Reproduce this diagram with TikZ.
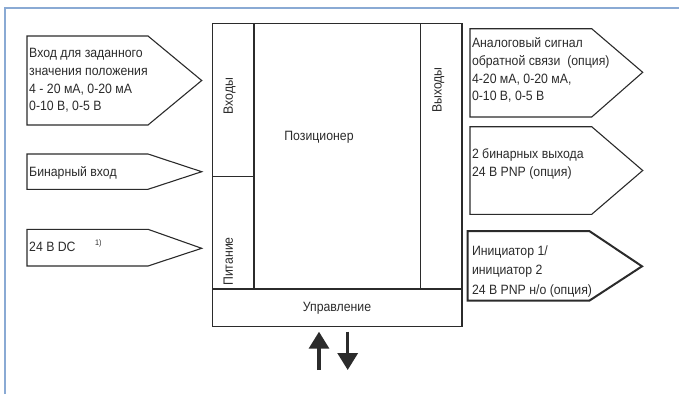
\documentclass[tikz,border=0pt]{standalone}
\usepackage{fontspec}
\setmainfont{Liberation Sans}[FakeStretch=0.91]
\usetikzlibrary{arrows.meta}
\definecolor{ln}{HTML}{2B2B2B}
\definecolor{fr}{HTML}{8AAAD4}
\begin{document}
\begin{tikzpicture}[x=1pt,y=-1pt,
  box/.style={draw=ln, line width=1.1pt, line join=miter},
  thickbox/.style={draw=ln, line width=2pt, line join=miter},
  lbl/.style={font=\fontsize{13.5}{17.7}\selectfont, text=ln, inner sep=0pt, align=left, anchor=base west},
  rlbl/.style={font=\fontsize{13.5}{15.6}\selectfont, text=ln, inner sep=0pt, rotate=90, anchor=base},
  clbl/.style={font=\fontsize{13.5}{15.6}\selectfont, text=ln, inner sep=0pt, anchor=base},
  bigarrow/.style={draw=ln, line width=3.3pt, -{Triangle[width=20pt,length=17pt]}}]
\useasboundingbox (0,0) rectangle (679,394);
% frame
\draw[fr, line width=1.5pt] (5,394) -- (5,8) -- (679,8);
% main block
\draw[box] (212.7,23.3) rectangle (462,326.7);
\draw[box] (254,23.3) -- (254,289);
\draw[box] (420.7,23.3) -- (420.7,289);
\draw[box] (212.7,289) -- (462,289);
\draw[box] (212.7,176.7) -- (254,176.7);
\node[rlbl] (inp) at (232.8,96) {Входы};
\node[rlbl] (outp) at (441.5,90) {Выходы};
\node[rlbl] (pwr) at (232.8,261.5) {Питание};
\node[clbl] (pos) at (319,140) {Позиционер};
\node[clbl] (ctrl) at (337,311) {Управление};
% left arrows (multi-line labels are placed by their last baseline)
\draw[box] (27,36) -- (148,36) -- (201.7,80.5) -- (148,125) -- (27,125) -- cycle;
\node[lbl] (l1) at (29,110.8) {Вход для заданного\\значения положения\\4 - 20 мА, 0-20 мА\\0-10 В, 0-5 В};
\draw[box] (27,154) -- (148,154) -- (201.7,171.7) -- (148,189.3) -- (27,189.3) -- cycle;
\node[lbl] (l2) at (29,176.7) {Бинарный вход};
\draw[box] (27,229.3) -- (148,229.3) -- (201.7,248.3) -- (148,266) -- (27,266) -- cycle;
\node[lbl] (l3) at (29,251.3) {24 B DC};
\node[lbl, font=\fontsize{8}{9}\selectfont] (fn) at (95,245) {1)};
% right arrows
\draw[box] (470,28.7) -- (591.7,28.7) -- (642.7,72.3) -- (591.7,117) -- (470,117) -- cycle;
\node[lbl] (r1) at (471.8,100.8) {Аналоговый сигнал\\обратной связи\ \ (опция)\\4-20 мА, 0-20 мА,\\0-10 В, 0-5 В};
\draw[box] (470,126.7) -- (591.7,126.7) -- (642.7,170.5) -- (591.7,214.3) -- (470,214.3) -- cycle;
\node[lbl, font=\fontsize{13.5}{18.3}\selectfont] (r2) at (471.8,176.6) {2 бинарных выхода\\24 В PNP (опция)};
\draw[thickbox] (467.7,231) -- (589.3,231) -- (642,266.3) -- (589.3,300.7) -- (467.7,300.7) -- cycle;
\node[lbl, font=\fontsize{13.5}{19.2}\selectfont] (r3) at (471.8,294.1) {Инициатор 1/\\инициатор 2\\24 В PNP н/о (опция)};
% control arrows
\coordinate (ua) at (319,370);
\coordinate (ub) at (319,331.7);
\coordinate (da) at (347.7,331.7);
\coordinate (db) at (347.7,370);
\draw[bigarrow] (ua) -- (ub);
\draw[bigarrow] (da) -- (db);
\end{tikzpicture}
\end{document}
